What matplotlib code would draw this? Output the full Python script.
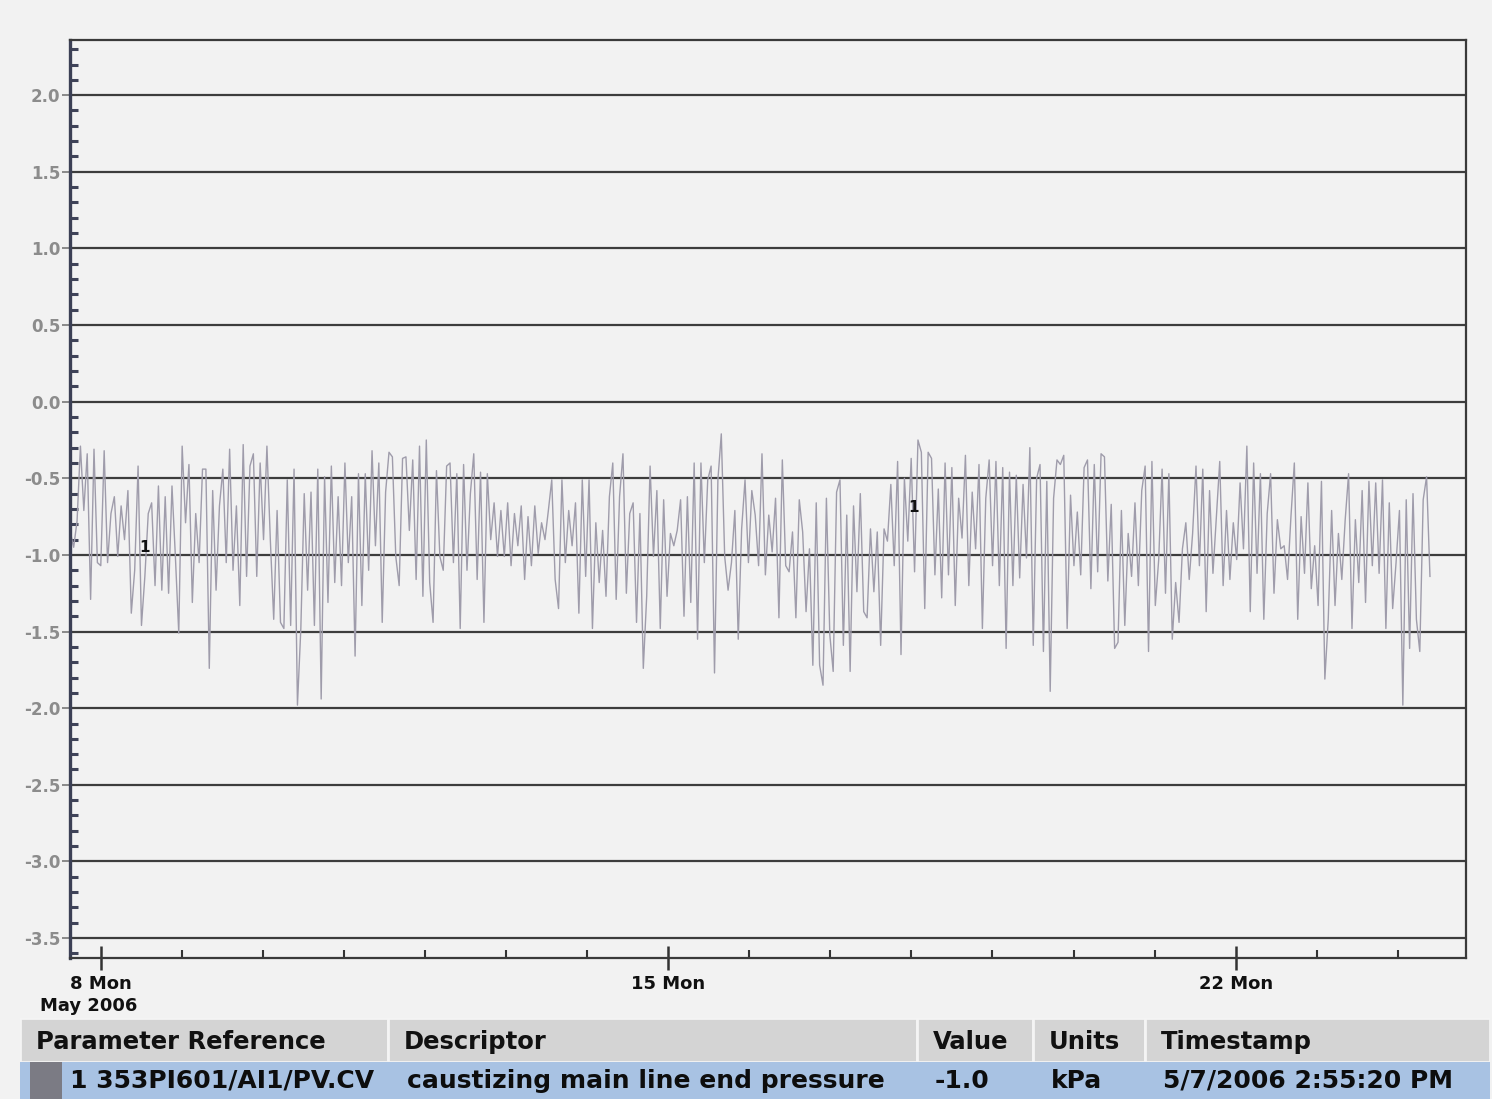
import numpy as np
import matplotlib.pyplot as plt
import matplotlib.dates as mdates
from matplotlib.ticker import MultipleLocator, FuncFormatter
from matplotlib.patches import Rectangle
from datetime import datetime

# Trend data: caustizing main line end pressure (kPa)
pressure = [
    # May 7 - 11
    -0.85, -0.95, -0.78, -0.29, -0.71, -0.34, -1.29, -0.31, -1.05, -1.07, -0.32, -1.05, -0.73, -0.62, -1.01,
    -0.68, -0.90, -0.58, -1.38, -1.10, -0.42, -1.46, -1.14, -0.73, -0.66, -1.20, -0.55, -1.23, -0.62, -1.25,
    -0.55, -1.01, -1.51, -0.29, -0.79, -0.41, -1.31, -0.73, -1.05, -0.44, -0.44, -1.74, -0.58, -1.23, -0.68,
    -0.44, -1.05, -0.31, -1.10, -0.68, -1.33, -0.28, -1.14, -0.42, -0.34, -1.14, -0.40, -0.90, -0.29, -0.90,
    -1.42, -0.71, -1.44, -1.48, -0.51, -1.46, -0.44, -1.98, -1.48, -0.60, -1.23, -0.59, -1.46, -0.44, -1.94,
    -0.49, -1.31, -0.42, -1.18, -0.62, -1.20, -0.40, -1.05, -0.62, -1.66, -0.47, -1.33, -0.47, -1.10, -0.32,
    -0.94, -0.40, -1.44, -0.59, -0.33, -0.36, -1.01, -1.20, -0.37,
    # May 11 - 16
    -0.36, -0.84, -0.38, -1.16, -0.29, -1.27, -0.25, -1.18, -1.44, -0.45, -1.01, -1.10, -0.42, -0.40, -1.05,
    -0.47, -1.48, -0.41, -1.10, -0.60, -0.34, -1.16, -0.46, -1.44, -0.47, -0.90, -0.66, -1.01, -0.71, -1.01,
    -0.66, -1.07, -0.73, -0.94, -0.68, -1.16, -0.75, -1.07, -0.68, -0.99, -0.79, -0.90, -0.71, -0.51, -1.16,
    -1.35, -0.51, -1.05, -0.71, -0.94, -0.66, -1.38, -0.51, -1.14, -0.51, -1.48, -0.79, -1.18, -0.84, -1.27,
    -0.62, -0.40, -1.29, -0.62, -0.34, -1.25, -0.73, -0.66, -1.44, -0.73, -1.74, -1.27, -0.42, -1.01, -0.58,
    -1.48, -0.64, -1.27, -0.86, -0.94, -0.84, -0.64, -1.40, -0.62, -1.31, -0.40, -1.55, -0.40, -1.05, -0.51,
    -0.42, -1.77, -0.51, -0.21, -1.01, -1.23, -1.05, -0.71, -1.55, -0.83, -0.51, -1.05, -0.58,
    # May 16 - 20
    -0.74, -1.07, -0.34, -1.13, -0.74, -0.98, -0.63, -1.41, -0.38, -1.07, -1.11, -0.85, -1.41, -0.64, -0.85,
    -1.37, -0.96, -1.72, -0.66, -1.72, -1.85, -0.63, -1.52, -1.76, -0.59, -0.51, -1.59, -0.74, -1.76, -0.68,
    -1.24, -0.60, -1.37, -1.41, -0.83, -1.24, -0.85, -1.59, -0.83, -0.91, -0.54, -1.07, -0.39, -1.65, -0.50,
    -0.91, -0.37, -1.11, -0.25, -0.33, -1.35, -0.33, -0.37, -1.13, -0.57, -1.28, -0.40, -1.13, -0.43, -1.33,
    -0.63, -0.89, -0.35, -1.20, -0.59, -0.96, -0.41, -1.48, -0.63, -0.38, -1.07, -0.39, -1.20, -0.43, -1.61,
    -0.46, -1.20, -0.48, -1.15, -0.54, -1.02, -0.30, -1.59, -0.50, -0.41, -1.63, -0.52, -1.89, -0.63, -0.38,
    -0.41, -0.35, -1.48, -0.61, -1.07, -0.72, -1.13, -0.43, -0.38, -1.22, -0.41, -1.11, -0.34, -0.36, -1.17,
    -0.67, -1.61,
    # May 20 - 24
    -1.57, -0.71, -1.46, -0.86, -1.14, -0.66, -1.20, -0.58, -0.42, -1.63, -0.39, -1.33, -1.03, -0.44, -1.25,
    -0.47, -1.55, -1.18, -1.44, -0.96, -0.79, -1.16, -0.86, -0.42, -1.07, -0.44, -1.37, -0.58, -1.12, -0.75,
    -0.39, -1.20, -0.71, -1.16, -0.79, -1.03, -0.53, -0.96, -0.29, -1.37, -0.40, -1.12, -0.47, -1.42, -0.73,
    -0.47, -1.25, -0.77, -0.96, -0.94, -1.16, -0.75, -0.40, -1.42, -0.75, -1.12, -0.53, -1.22, -0.94, -1.33,
    -0.52, -1.81, -1.42, -0.71, -1.33, -0.86, -1.16, -0.77, -0.47, -1.48, -0.77, -1.18, -0.58, -1.31, -0.52,
    -1.07, -0.53, -1.12, -0.51, -1.48, -0.66, -1.35, -1.05, -0.71, -1.98, -0.64, -1.61, -0.60, -1.42, -1.63,
    -0.64, -0.49, -1.14,
]

trace_start = datetime(2006, 5, 7, 15, 0)
trace_end = datetime(2006, 5, 24, 9, 30)
view_start = datetime(2006, 5, 7, 14, 55, 20)
view_end = datetime(2006, 5, 24, 20, 10)

# pen number markers drawn on the trace
pen_times = [datetime(2006, 5, 8, 13, 0), datetime(2006, 5, 18, 0, 30)]
pen_values = [-0.95, -0.69]

headers = ["Parameter Reference", "Descriptor", "Value", "Units", "Timestamp"]
row = ["1 353PI601/AI1/PV.CV", "caustizing main line end pressure", "-1.0", "kPa", "5/7/2006 2:55:20 PM"]

bg = "#f2f2f2"
fig = plt.figure(figsize=(14.92, 10.99), dpi=100, facecolor=bg)
W, H = 1492, 1099
ax = fig.add_axes([70 / W, 1 - 958 / H, (1466 - 70) / W, (958 - 40) / H], facecolor=bg)

times = np.linspace(mdates.date2num(trace_start), mdates.date2num(trace_end), len(pressure))
ax.plot(times, pressure, color="#9f9cab", lw=1.0, zorder=2)

for t, v in zip(pen_times, pen_values):
    ax.text(mdates.date2num(t), v, "1", fontsize=11, fontweight="bold", color="#111111",
            ha="center", va="center", zorder=3)

ax.set_xlim(mdates.date2num(view_start), mdates.date2num(view_end))
ax.set_ylim(-3.63, 2.36)

# horizontal grid
ax.yaxis.set_major_locator(MultipleLocator(0.5))
ax.yaxis.set_minor_locator(MultipleLocator(0.1))
ax.yaxis.set_major_formatter(FuncFormatter(lambda v, p: f"{v:.1f}"))
ax.grid(axis="y", which="major", color="#3d3d3d", lw=1.6, zorder=1)
ax.tick_params(axis="y", which="major", direction="out", length=6, width=1.4, color="#8a8a8a",
               pad=1, labelsize=12, labelcolor="#8c8c8c")
ax.tick_params(axis="y", which="minor", direction="in", length=6, width=2.2, color="#3f4358")
for lab in ax.get_yticklabels():
    lab.set_fontweight("bold")

# date axis
ax.xaxis.set_major_locator(mdates.DayLocator(bymonthday=[8, 15, 22]))
ax.xaxis.set_minor_locator(mdates.DayLocator())
ax.xaxis.set_major_formatter(FuncFormatter(lambda x, p: mdates.num2date(x).strftime("%d %a").lstrip("0")))
ax.tick_params(axis="x", which="major", direction="inout", length=17, width=1.8, color="#333333",
               pad=4, labelsize=13, labelcolor="#111111")
ax.tick_params(axis="x", which="minor", direction="in", length=6, width=1.5, color="#333333")
for lab in ax.get_xticklabels():
    lab.set_fontweight("bold")

for side in ["top", "right", "bottom"]:
    ax.spines[side].set_color("#3a3a3a")
    ax.spines[side].set_linewidth(1.6)
ax.spines["left"].set_color("#3c4055")
ax.spines["left"].set_linewidth(2.4)

fig.text(40 / W, 1 - 1006 / H, "May 2006", fontsize=13, fontweight="bold", color="#111111",
         ha="left", va="center")

# parameter table under the chart
tab = fig.add_axes([20 / W, 0, 1470 / W, 81 / H])
tab.set_xlim(0, 1470)
tab.set_ylim(81, 0)
tab.axis("off")
col_edges = [0, 368, 897, 1013, 1125, 1470]
for i in range(len(headers)):
    x0, x1 = col_edges[i], col_edges[i + 1]
    tab.add_patch(Rectangle((x0, 0), x1 - x0, 44, facecolor="#d4d4d4", edgecolor="#f4f4f4", lw=2))
    tab.text(x0 + 16, 24, headers[i], fontsize=17.5, fontweight="bold", color="#111111", va="center")
tab.add_patch(Rectangle((0, 44), 1470, 37, facecolor="#a8c2e3", edgecolor="none"))
tab.add_patch(Rectangle((10, 44), 32, 37, facecolor="#7b7b84", edgecolor="none"))
row_x = [50, 387, 915, 1031, 1143]
for x, txt in zip(row_x, row):
    tab.text(x, 63, txt, fontsize=18, fontweight="bold", color="#0d0d0d", va="center")

plt.savefig("out.png", dpi=100, facecolor=bg)
